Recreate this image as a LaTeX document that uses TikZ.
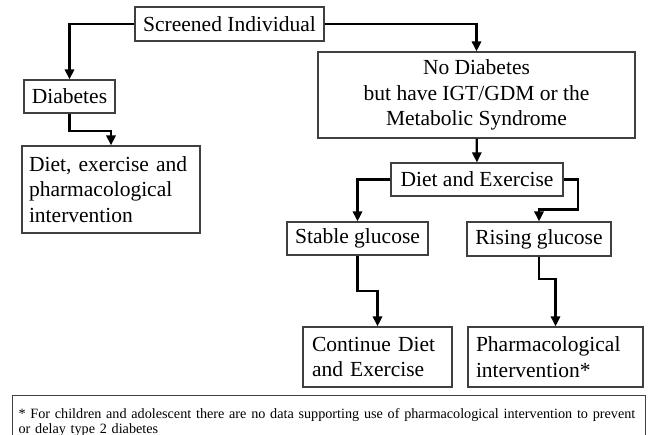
\documentclass[tikz,border=0pt]{standalone}
\usepackage{fontspec}
\setmainfont{Liberation Serif}
\usepackage{tikz}
\usetikzlibrary{arrows.meta}
\newcommand{\boxfont}{\fontsize{10.75pt}{12.75pt}\selectfont}
\newcommand{\notefont}{\fontsize{7.1pt}{7.6pt}\selectfont\hyphenpenalty=10000}

\begin{document}
\begin{tikzpicture}[x=0.5pt, y=-0.5pt]

    \tikzstyle{box} = [rectangle, draw=black!75, line width=0.6pt, inner sep=0pt, font=\boxfont, align=center]
    \tikzstyle{leftbox} = [box, align=left, inner xsep=3.5pt]
    \tikzstyle{arrow} = [line width=1.1pt, ->, >={Triangle[length=5pt,width=4.6pt]}]

    \useasboundingbox (0,0) rectangle (653,434);

    \node[box, minimum width=94.5pt, minimum height=17pt] (scr) at (229.5,24) {Screened Individual};
    \node[box, minimum width=45.5pt, minimum height=16.5pt] (diab) at (69.5,96.5) {Diabetes};
    \node[leftbox, text width=82pt, minimum height=43.5pt] (treat) at (111,189.5) {Diet, exercise and\\ pharmacological\\ intervention};
    \node[box, minimum width=158.5pt, minimum height=43pt] (nodiab) at (476.5,95) {No Diabetes\\ but have IGT/GDM or the\\ Metabolic Syndrome};
    \node[box, minimum width=86pt, minimum height=16.5pt] (dietex) at (477,179.5) {Diet and Exercise};
    \node[box, minimum width=70.5pt, minimum height=16.5pt] (stable) at (357.5,238.5) {Stable glucose};
    \node[box, minimum width=72pt, minimum height=17pt] (rising) at (539,239) {Rising glucose};
    \node[leftbox, inner xsep=4.5pt, text width=65.5pt, minimum height=30pt] (cont) at (377.5,357) {Continue Diet\\ and Exercise};
    \node[leftbox, inner xsep=4pt, text width=79.5pt, minimum height=30pt] (pharm) at (555.5,357) {Pharmacological\\ intervention*};
    \node[box, anchor=north west, align=left, font=\notefont, inner xsep=3pt, inner ysep=6.5pt, text width=310.5pt] (note) at (12,395)
        {* For children and adolescent there are no data supporting use of pharmacological intervention to prevent\\ or delay type 2 diabetes};

    \draw[arrow] (scr) -| (diab);
    \draw[arrow] (scr) -| (nodiab);
    \draw[arrow] (diab.south) -- ++(0,17) -| (treat.north);
    \draw[arrow] (nodiab) -- (dietex);
    \draw[arrow] (dietex) -| (stable);
    \draw[arrow] (dietex.east) -- ++(14,0) -- ++(0,30) -| (rising.north);
    \draw[arrow] (stable.south) -- ++(0,35) -| (cont.north);
    \draw[arrow] (rising.south) -- ++(0,22) -| (pharm.north);

\end{tikzpicture}
\end{document}
